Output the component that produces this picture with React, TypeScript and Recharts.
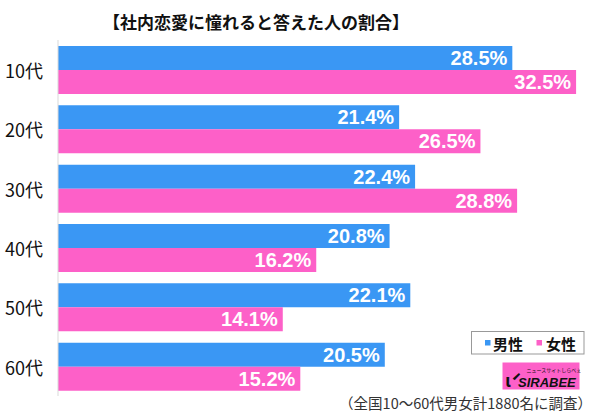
import React from 'react';
import { BarChart, Bar, XAxis, YAxis, LabelList } from 'recharts';

const AGES = ['10代', '20代', '30代', '40代', '50代', '60代'];
const MALE = [28.5, 21.4, 22.4, 20.8, 22.1, 20.5];
const FEMALE = [32.5, 26.5, 28.8, 16.2, 14.1, 15.2];

const BLUE = '#3a97f4';
const PINK = '#fd60c8';
const JP_FONT = '"Noto Sans CJK JP", "Noto Sans", sans-serif';
const NUM_FONT = '"Liberation Sans", Arial, sans-serif';

const chartData = AGES.map((age, i) => ({ age, male: MALE[i], female: FEMALE[i] }));

const fmt = (v: any) => `${Number(v).toFixed(1)}%`;

// title, legend, logo and footnote sit on top of the chart
const Overlay: React.FC = () => (
  <svg width={600} height={418} style={{ position: 'absolute', left: 0, top: 0, pointerEvents: 'none' }}>
    <text x={256} y={21} textAnchor="middle" dominantBaseline="central" fontFamily={JP_FONT} fontWeight="bold" fontSize={17} fill="#111">
      【社内恋愛に憧れると答えた人の割合】
    </text>

    <rect x={471.5} y={331.5} width={112.5} height={22.5} fill="#fff" stroke="#999" strokeWidth={1} />
    <rect x={485} y={340} width={5.5} height={5.5} fill={BLUE} />
    <text x={493} y={343} dominantBaseline="central" fontFamily={JP_FONT} fontWeight="bold" fontSize={15} fill="#111">男性</text>
    <rect x={536.5} y={340} width={5.5} height={5.5} fill={PINK} />
    <text x={546} y={343} dominantBaseline="central" fontFamily={JP_FONT} fontWeight="bold" fontSize={15} fill="#111">女性</text>

    <rect x={502.5} y={362.5} width={77} height={27} fill={PINK} />
    <text x={554} y={372} textAnchor="middle" fontFamily={JP_FONT} fontSize={5} fill="#111">ニュースサイトしらべぇ</text>
    <text x={505} y={387} fontFamily={JP_FONT} fontWeight="bold" fontSize={18} fill="#111">ί</text>
    <text x={518} y={386.5} fontFamily={NUM_FONT} fontWeight="bold" fontStyle="italic" fontSize={13} fill="#111">SIRABEE</text>

    <text x={592} y={402} textAnchor="end" dominantBaseline="central" fontFamily={JP_FONT} fontSize={14.5} fill="#333">
      （全国10～60代男女計1880名に調査）
    </text>
  </svg>
);

const App: React.FC = () => (
  <div style={{ position: 'absolute', left: 0, top: 0, width: 600, height: 418, background: '#fff' }}>
    <BarChart
      width={600}
      height={418}
      data={chartData}
      layout="vertical"
      margin={{ top: 40, right: 0, bottom: 22, left: 0 }}
      barCategoryGap={6}
      barGap={0}
    >
      <XAxis type="number" domain={[0, 34]} hide />
      <YAxis
        type="category"
        dataKey="age"
        width={58}
        tickLine={false}
        tickSize={0}
        tickMargin={15}
        axisLine={{ stroke: '#d9d9d9' }}
        tick={{ fontSize: 18, fill: '#111', fontFamily: JP_FONT, dy: 2 }}
      />
      <Bar dataKey="male" fill={BLUE} isAnimationActive={false}>
        <LabelList dataKey="male" position="insideRight" offset={5} formatter={fmt}
          fill="#fff" fontSize={20} fontWeight="bold" fontFamily={NUM_FONT} />
      </Bar>
      <Bar dataKey="female" fill={PINK} isAnimationActive={false}>
        <LabelList dataKey="female" position="insideRight" offset={5} formatter={fmt}
          fill="#fff" fontSize={20} fontWeight="bold" fontFamily={NUM_FONT} />
      </Bar>
    </BarChart>
    <Overlay />
  </div>
);

export default App;
